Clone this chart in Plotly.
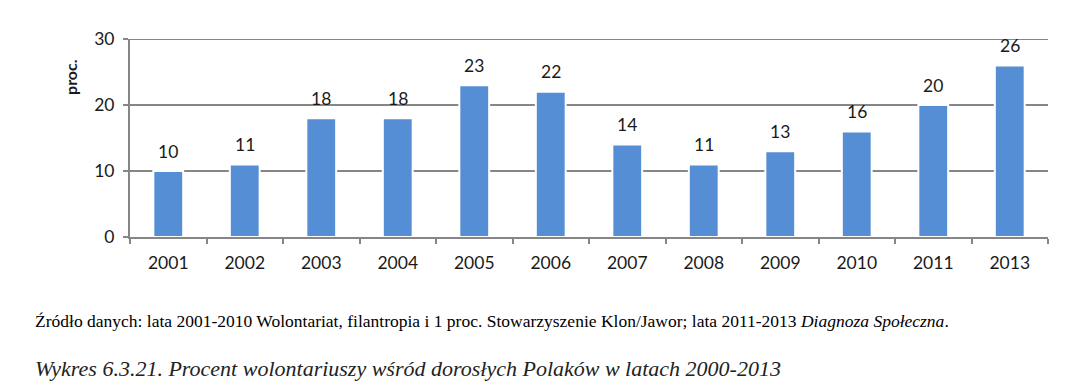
import plotly.graph_objects as go

years = ["2001", "2002", "2003", "2004", "2005", "2006", "2007", "2008", "2009", "2010", "2011", "2013"]
values = [10, 11, 18, 18, 23, 22, 14, 11, 13, 16, 20, 26]
y_ticks = [0, 10, 20, 30]

source_text = ("Źródło danych: lata 2001-2010 Wolontariat, filantropia i 1 proc. Stowarzyszenie Klon/Jawor; "
               "lata 2011-2013 <i>Diagnoza Społeczna</i>.")
caption_text = "<i>Wykres 6.3.21. Procent wolontariuszy wśród dorosłych Polaków w latach 2000-2013</i>"

fig = go.Figure()
fig.add_trace(go.Bar(
    x=years, y=values,
    marker=dict(color="#558ED5", line=dict(color="white", width=2)),
    hoverinfo="x+y",
))

for i, v in enumerate(values):
    fig.add_annotation(x=i, y=v, text=str(v), showarrow=False, yshift=20,
                       yanchor="middle", font=dict(family="Lato, Open Sans, sans-serif", size=17.5, color="#1a1a1a"))

fig.add_annotation(xref="paper", yref="paper", x=-0.065, y=0.81, text="<b>proc.</b>", textangle=-90,
                   showarrow=False, xanchor="center", yanchor="middle",
                   font=dict(family="Lato, Open Sans, sans-serif", size=16, color="#1a1a1a"))

fig.add_annotation(xref="paper", yref="paper", x=-0.106, y=-0.425, text=source_text,
                   showarrow=False, xanchor="left", yanchor="middle",
                   font=dict(family="Liberation Serif, serif", size=17.5, color="black"))
fig.add_annotation(xref="paper", yref="paper", x=-0.106, y=-0.665, text=caption_text,
                   showarrow=False, xanchor="left", yanchor="middle",
                   font=dict(family="Liberation Serif, serif", size=22, color="#222222"))

# top gridline (at the last y tick, which coincides with the plot edge)
fig.add_shape(type="line", xref="paper", x0=0, x1=1, yref="y", y0=y_ticks[-1], y1=y_ticks[-1],
              line=dict(color="#868686", width=2), layer="below")

fig.update_layout(
    width=1091, height=389,
    margin=dict(l=130, r=43, t=39, b=152),
    paper_bgcolor="white", plot_bgcolor="white",
    bargap=0.61,
    showlegend=False,
    font=dict(family="Lato, Open Sans, sans-serif", size=17, color="#1a1a1a"),
)
fig.update_xaxes(
    type="category", range=[-0.5, len(years) - 0.5], showline=True, linecolor="#868686", linewidth=2,
    ticks="outside", tickson="boundaries", ticklen=5, tickcolor="#868686", tickwidth=2,
    showgrid=False, tickfont=dict(size=17.5), tickangle=0, ticklabelstandoff=9,
)
fig.update_yaxes(
    range=[0, 30], tickvals=y_ticks, showline=True, linecolor="#868686", linewidth=2,
    ticks="outside", ticklen=5, tickcolor="#868686", tickwidth=2,
    showgrid=True, gridcolor="#868686", gridwidth=2, zeroline=False,
    tickfont=dict(size=17.5), ticklabelstandoff=5,
)

fig.write_html("out.html", config={"displayModeBar": False},
               post_script="document.body.style.margin='0';")
